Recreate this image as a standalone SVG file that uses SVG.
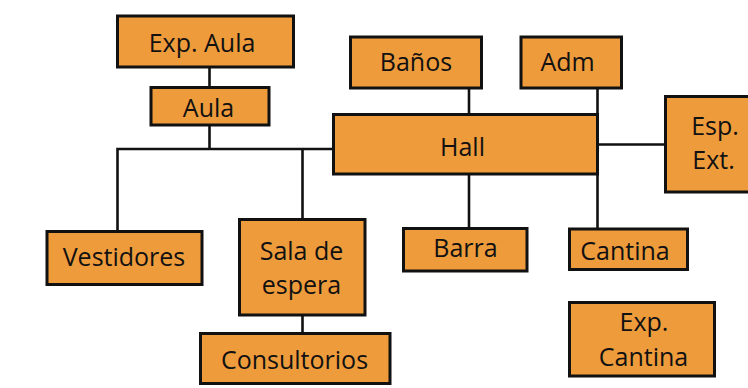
<svg xmlns="http://www.w3.org/2000/svg" width="748" height="388" viewBox="0 0 748 388">
<style>
.box{fill:#EE9B3C;stroke:#111;stroke-width:3}
.ln{stroke:#111;stroke-width:2.6;fill:none}
text{font-family:"Open Sans","Noto Sans",sans-serif;font-size:25px;fill:#111;text-anchor:middle}
</style>
<rect width="748" height="388" fill="#fff"/>
<g id="connectors">
<line class="ln" x1="209.5" y1="67" x2="209.5" y2="87"/>
<line class="ln" x1="209.5" y1="125" x2="209.5" y2="149"/>
<polyline class="ln" points="117.5,231 117.5,149 333,149"/>
<line class="ln" x1="302.5" y1="149" x2="302.5" y2="219"/>
<line class="ln" x1="302.5" y1="315" x2="302.5" y2="333"/>
<line class="ln" x1="469" y1="88" x2="469" y2="114"/>
<line class="ln" x1="469" y1="174" x2="469" y2="228"/>
<line class="ln" x1="597.5" y1="88" x2="597.5" y2="229"/>
<line class="ln" x1="597.5" y1="144.5" x2="665" y2="144.5"/>
</g>
<g id="exp-aula"><rect class="box" x="117.5" y="16" width="176" height="51"/><text x="202" y="52">Exp. Aula</text></g>
<g id="aula"><rect class="box" x="151" y="87.5" width="118" height="37.5"/><text x="208.5" y="117">Aula</text></g>
<g id="banos"><rect class="box" x="350.5" y="37" width="131" height="51"/><text x="416" y="71">Baños</text></g>
<g id="adm"><rect class="box" x="521" y="37" width="100.5" height="51"/><text x="567.5" y="71">Adm</text></g>
<g id="hall"><rect class="box" x="333.5" y="114.5" width="264" height="59.5"/><text x="462.5" y="156">Hall</text></g>
<g id="esp-ext"><rect class="box" x="665.5" y="96.5" width="100" height="95.5"/><text x="715" y="135">Esp.</text><text x="713.5" y="169">Ext.</text></g>
<g id="vestidores"><rect class="box" x="47" y="231.5" width="155" height="53"/><text x="124" y="266">Vestidores</text></g>
<g id="sala-espera"><rect class="box" x="239.5" y="219.5" width="125.5" height="95.5"/><text x="301.5" y="259.5">Sala de</text><text x="301.5" y="293.5">espera</text></g>
<g id="consultorios"><rect class="box" x="200.5" y="333.5" width="189.5" height="50"/><text x="294.5" y="369">Consultorios</text></g>
<g id="barra"><rect class="box" x="403.5" y="228.5" width="123.5" height="42.5"/><text x="465.5" y="257">Barra</text></g>
<g id="cantina"><rect class="box" x="569.5" y="229" width="118" height="40.5"/><text x="625" y="260">Cantina</text></g>
<g id="exp-cantina"><rect class="box" x="569.5" y="302.5" width="145" height="73.5"/><text x="644" y="331">Exp.</text><text x="643.5" y="365.5">Cantina</text></g>
</svg>
